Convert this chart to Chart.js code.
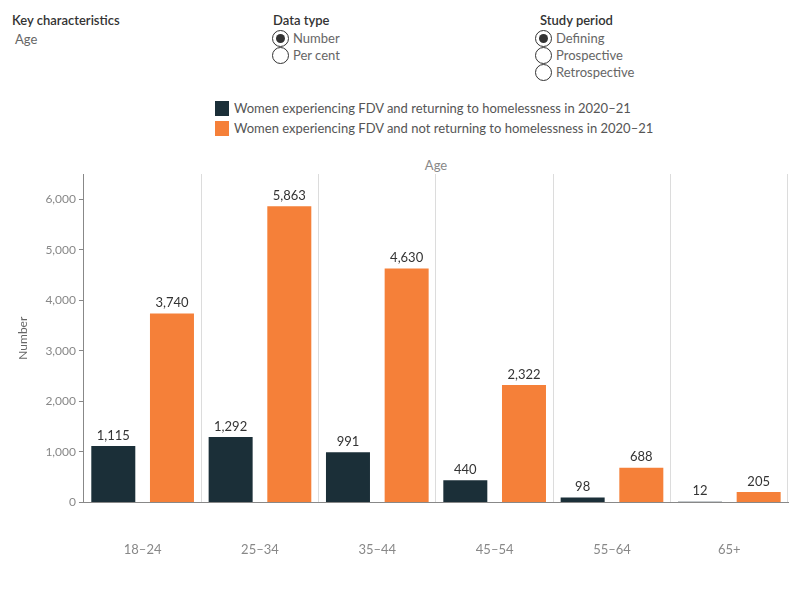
<!DOCTYPE html>
<html>
<head>
<meta charset="utf-8">
<script src="https://cdn.jsdelivr.net/npm/chart.js@4"></script>
<style>
  body { margin: 0; width: 800px; height: 600px; position: relative; font-family: Lato, "Open Sans", sans-serif; background: #fff; overflow: hidden; }
  .hdr { position: absolute; font-size: 13px; color: #333; font-weight: 600; }
  .val { position: absolute; font-size: 13px; color: #666; }
  .radio { position: absolute; font-size: 13px; color: #666; height: 17px; line-height: 17px; padding-left: 21px; }
  .radio:before { content: ""; position: absolute; left: 0; top: 0; width: 15px; height: 15px; border: 1px solid #333; border-radius: 50%; background: #fff; }
  .radio.on:after { content: ""; position: absolute; left: 4px; top: 4px; width: 9px; height: 9px; border-radius: 50%; background: #333; }
  .leg { position: absolute; left: 215px; font-size: 13px; color: #555; height: 17px; line-height: 17px; padding-left: 19px; }
  .leg span { position: absolute; left: 0; top: 1px; width: 14px; height: 15px; }
  #axTitle { position: absolute; left: 84px; width: 704px; top: 157px; text-align: center; font-size: 13px; color: #888; }
  #wrap { position: absolute; left: 0; top: 150px; width: 800px; height: 450px; }
</style>
</head>
<body>
<div class="hdr" style="left:12px;top:12px">Key characteristics</div>
<div class="val" style="left:15px;top:31px">Age</div>

<div class="hdr" style="left:273px;top:12px">Data type</div>
<div class="radio on" style="left:272px;top:30px">Number</div>
<div class="radio" style="left:272px;top:47px">Per cent</div>

<div class="hdr" style="left:540px;top:12px">Study period</div>
<div class="radio on" style="left:535px;top:30px">Defining</div>
<div class="radio" style="left:535px;top:47px">Prospective</div>
<div class="radio" style="left:535px;top:64px">Retrospective</div>

<div class="leg" style="top:100px"><span style="background:#1b2f38"></span>Women experiencing FDV and returning to homelessness in 2020–21</div>
<div class="leg" style="top:120px"><span style="background:#f58039"></span>Women experiencing FDV and not returning to homelessness in 2020–21</div>

<div id="axTitle">Age</div>
<div id="wrap"><canvas id="chart"></canvas></div>

<script>
const ageGroups = ["18–24", "25–34", "35–44", "45–54", "55–64", "65+"];
const returning = [1115, 1292, 991, 440, 98, 12];
const notReturning = [3740, 5863, 4630, 2322, 688, 205];
const seriesNames = [
    "Women experiencing FDV and returning to homelessness in 2020–21",
    "Women experiencing FDV and not returning to homelessness in 2020–21"
];
const fontFamily = "Lato, 'Open Sans', sans-serif";

// draw the numbers above each bar
const valueLabels = {
    id: "valueLabels",
    afterDatasetsDraw(chart) {
        const ctx = chart.ctx;
        ctx.save();
        ctx.font = "13px " + fontFamily;
        ctx.fillStyle = "#333";
        ctx.textAlign = "center";
        ctx.textBaseline = "bottom";
        chart.data.datasets.forEach(function(ds, i) {
            chart.getDatasetMeta(i).data.forEach(function(bar, j) {
                ctx.fillText(ds.data[j].toLocaleString("en-US"), bar.x, bar.y - 4);
            });
        });
        ctx.restore();
    }
};

const ctx = document.getElementById("chart").getContext("2d");
new Chart(ctx, {
    type: "bar",
    data: {
        labels: ageGroups,
        datasets: [
            { label: seriesNames[0], data: returning, backgroundColor: "#1b2f38" },
            { label: seriesNames[1], data: notReturning, backgroundColor: "#f58039" }
        ]
    },
    options: {
        responsive: true,
        maintainAspectRatio: false,
        animation: false,
        layout: { padding: { left: 12, right: 12, top: 24, bottom: 2 } },
        datasets: { bar: { categoryPercentage: 1.0, barPercentage: 0.75 } },
        plugins: { legend: { display: false }, tooltip: { enabled: false } },
        scales: {
            x: {
                grid: {
                    offset: true,
                    drawTicks: false,
                    color: function(c) { return c.index === ageGroups.length ? "rgba(0,0,0,0)" : "#dcdcdc"; }
                },
                border: { color: "#888" },
                ticks: { padding: 40, color: "#888", font: { size: 13, family: fontFamily } }
            },
            y: {
                min: 0,
                max: 6500,
                ticks: {
                    stepSize: 500,
                    autoSkip: false,
                    color: "#888",
                    padding: 3,
                    font: { size: 12, family: fontFamily },
                    callback: function(v) { return v % 1000 === 0 ? v.toLocaleString("en-US") : ""; }
                },
                grid: {
                    drawOnChartArea: false,
                    tickLength: 5,
                    color: function(c) { return c.tick && c.tick.value % 1000 === 0 ? "#888" : "rgba(0,0,0,0)"; }
                },
                border: { color: "#888" },
                title: { display: true, text: "Number", color: "#666", padding: { top: 4, bottom: 12 }, font: { size: 12, family: fontFamily } }
            }
        }
    },
    plugins: [valueLabels]
});
</script>
</body>
</html>
